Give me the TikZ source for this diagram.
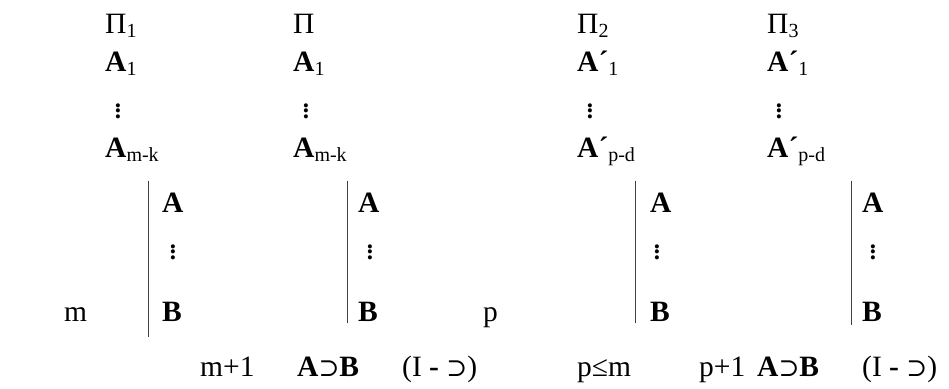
\documentclass[tikz,border=0pt]{standalone}
\usepackage{fontspec}
\setmainfont{Liberation Serif}
\newfontfamily\symf{DejaVu Serif}
\newcommand\sbs[1]{\raisebox{-4pt}{\fontsize{20}{20}\selectfont #1}}
\newcommand\sps{{\symf\fontsize{25}{30}\selectfont ⊃}}
\newcommand\vdts{\vbox{\fontsize{25}{5}\selectfont\bfseries\baselineskip=5.4pt\lineskiplimit=-20pt\hbox{.}\hbox{.}\hbox{.}}}
\begin{document}
\begin{tikzpicture}[x=1pt,y=-1pt,
  txt/.style={anchor=base west, inner sep=0pt, font=\fontsize{29.5}{34}\selectfont},
  dts/.style={inner sep=0pt, anchor=center},
  bar/.style={line width=0.9pt, black!75}]
\useasboundingbox (0,0) rectangle (949,388);
% column 1
\node[txt] (p1) at (105,33) {Π\sbs{1}};
\node[txt] (a11) at (105,71) {\textbf{A}\sbs{1}};
\node[dts] (d11) at (118,111) {\vdts};
\node[txt] (am1) at (105,157) {\textbf{A}\sbs{m-k}};
% column 2
\node[txt] (p0) at (293,33) {Π};
\node[txt] (a12) at (293,71) {\textbf{A}\sbs{1}};
\node[dts] (d12) at (306,111) {\vdts};
\node[txt] (am2) at (293,157) {\textbf{A}\sbs{m-k}};
% column 3
\node[txt] (p2) at (577,33) {Π\sbs{2}};
\node[txt] (a13) at (577,71) {\textbf{A´}\sbs{1}};
\node[dts] (d13) at (590,111) {\vdts};
\node[txt] (am3) at (577,157) {\textbf{A´}\sbs{p-d}};
% column 4
\node[txt] (p3) at (767,33) {Π\sbs{3}};
\node[txt] (a14) at (767,71) {\textbf{A´}\sbs{1}};
\node[dts] (d14) at (779,111) {\vdts};
\node[txt] (am4) at (767,157) {\textbf{A´}\sbs{p-d}};
% subproof bars
\coordinate (t1) at (148,181); \coordinate (e1) at (148,337);
\coordinate (t2) at (347,181); \coordinate (e2) at (347,323);
\coordinate (t3) at (635,181); \coordinate (e3) at (635,323);
\coordinate (t4) at (851,181); \coordinate (e4) at (851,325);
\draw[bar] (t1) -- (e1);
\draw[bar] (t2) -- (e2);
\draw[bar] (t3) -- (e3);
\draw[bar] (t4) -- (e4);
% subproof contents
\node[txt] (sa1) at (162,212) {\textbf{A}};
\node[dts] (sd1) at (173,252) {\vdts};
\node[txt] (sb1) at (162,321) {\textbf{B}};
\node[txt] (sa2) at (358,212) {\textbf{A}};
\node[dts] (sd2) at (370,252) {\vdts};
\node[txt] (sb2) at (358,321) {\textbf{B}};
\node[txt] (sa3) at (650,212) {\textbf{A}};
\node[dts] (sd3) at (657,252) {\vdts};
\node[txt] (sb3) at (650,321) {\textbf{B}};
\node[txt] (sa4) at (862,212) {\textbf{A}};
\node[dts] (sd4) at (873,252) {\vdts};
\node[txt] (sb4) at (862,321) {\textbf{B}};
% line labels
\node[txt] (lm) at (64,321) {m};
\node[txt] (lp) at (483,321) {p};
% conclusions
\node[txt] (c1) at (200,376) {m+1};
\node[txt] (c2) at (297,376) {\textbf{A}\sps\textbf{B}};
\node[txt] (c3) at (402,376) {(I \textbf{-} \sps)};
\node[txt] (c4) at (577,376) {p≤m};
\node[txt] (c5) at (699,376) {p+1};
\node[txt] (c6) at (757,376) {\textbf{A}\sps\textbf{B}};
\node[txt] (c7) at (862,376) {(I \textbf{-} \sps)};
\end{tikzpicture}
\end{document}
